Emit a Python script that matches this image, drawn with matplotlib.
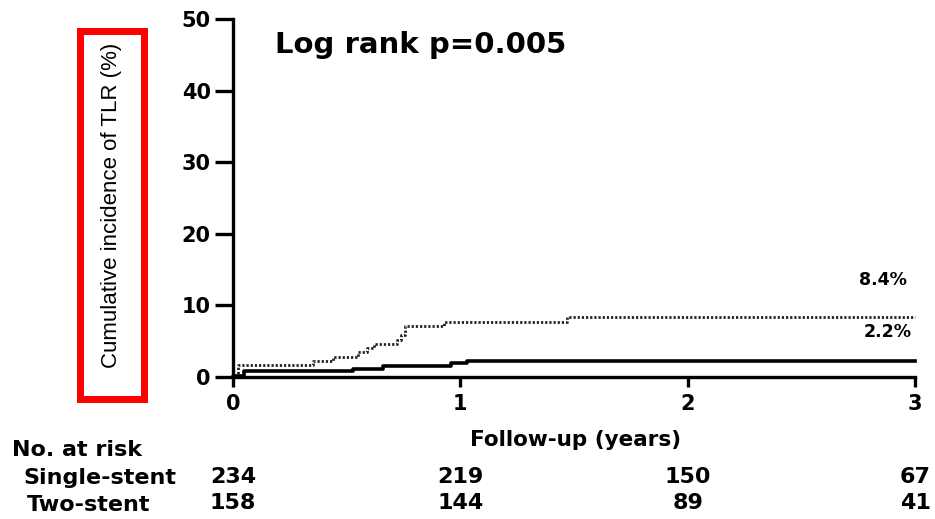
# -*- coding: utf-8 -*-

import matplotlib
matplotlib.use('Agg')
import matplotlib.pyplot as plt
import matplotlib.transforms as mtransforms
from matplotlib.patches import Rectangle

# cumulative incidence curves (years, %)
two_stent_t = [0, 0.02, 0.35, 0.44, 0.55, 0.59, 0.62, 0.72, 0.74, 0.755, 0.93, 1.47, 3.0]
two_stent_y = [0, 1.7, 2.2, 2.8, 3.5, 4.1, 4.6, 5.2, 5.9, 7.1, 7.7, 8.4, 8.4]
single_stent_t = [0, 0.01, 0.05, 0.53, 0.66, 0.96, 1.03, 3.0]
single_stent_y = [0, 0.2, 0.8, 1.1, 1.5, 1.9, 2.2, 2.2]

# numbers at risk
risk_years = [0, 1, 2, 3]
risk_single = [234, 219, 150, 67]
risk_two = [158, 144, 89, 41]

x_ticks = [0, 1, 2, 3]
y_ticks = [0, 10, 20, 30, 40, 50]

W, H = 935, 519
fig = plt.figure(figsize=(W / 100.0, H / 100.0), dpi=100)
fig.patch.set_facecolor('white')


def fx(px):
    return px / float(W)


def fy(py):
    return 1 - py / float(H)


ax = fig.add_axes([fx(233), fy(377), fx(915) - fx(233), fy(19) - fy(377)])

ax.step(two_stent_t, two_stent_y, where='post', color='#222222', lw=2.0,
        linestyle=(0, (0.8, 0.7)), clip_on=False)
ax.step(single_stent_t, single_stent_y, where='post', color='black', lw=2.6,
        clip_on=False)

ax.set_xlim(0, 3)
ax.set_ylim(0, 50)
ax.set_xticks(x_ticks)
ax.set_yticks(y_ticks)
for s in ['top', 'right']:
    ax.spines[s].set_visible(False)
for s in ['left', 'bottom']:
    ax.spines[s].set_linewidth(2.4)
ax.tick_params(axis='y', direction='out', length=13, width=2.4, pad=3)
ax.tick_params(axis='x', direction='out', length=7, width=2.4, pad=5)
for lab in ax.get_xticklabels() + ax.get_yticklabels():
    lab.set_fontweight('bold')
    lab.set_fontsize(15)
    lab.set_family('DejaVu Sans')

# end-of-curve percentages
ax.text(2.965, 13.5, '%.1f%%' % two_stent_y[-1], ha='right', va='center',
        fontsize=12.5, fontweight='bold')
ax.text(2.987, 6.3, '%.1f%%' % single_stent_y[-1], ha='right', va='center',
        fontsize=12.5, fontweight='bold')

ax.text(0.185, 45.25, 'Log rank p=0.005', ha='left', va='baseline',
        fontsize=21, fontweight='bold')

# axis titles
fig.text(fx(112), fy(205), 'Cumulative incidence of TLR (%)', rotation=90,
         ha='center', va='center', fontsize=16, family='Liberation Sans')
box = Rectangle((fx(80), fy(399)), fx(143.5) - fx(80), fy(31) - fy(399),
                transform=fig.transFigure, fill=False,
                edgecolor='#ff0000', lw=5)
fig.add_artist(box)

fig.text(fx(576), fy(440), 'Follow-up (years)', ha='center', va='center',
         fontsize=15.5, fontweight='bold')

# number-at-risk table
fig.text(fx(12), fy(450), 'No. at risk', ha='left', va='center',
         fontsize=16, fontweight='bold')
fig.text(fx(23), fy(478), 'Single-stent', ha='left', va='center',
         fontsize=16, fontweight='bold')
fig.text(fx(27), fy(505), 'Two-stent', ha='left', va='center',
         fontsize=16, fontweight='bold')

trans = mtransforms.blended_transform_factory(ax.transData, fig.transFigure)
for yr, n1, n2 in zip(risk_years, risk_single, risk_two):
    ax.text(yr, fy(477), str(n1), transform=trans, ha='center', va='center',
            fontsize=16, fontweight='bold', clip_on=False)
    ax.text(yr, fy(503), str(n2), transform=trans, ha='center', va='center',
            fontsize=16, fontweight='bold', clip_on=False)

fig.savefig('out.png', dpi=100)
